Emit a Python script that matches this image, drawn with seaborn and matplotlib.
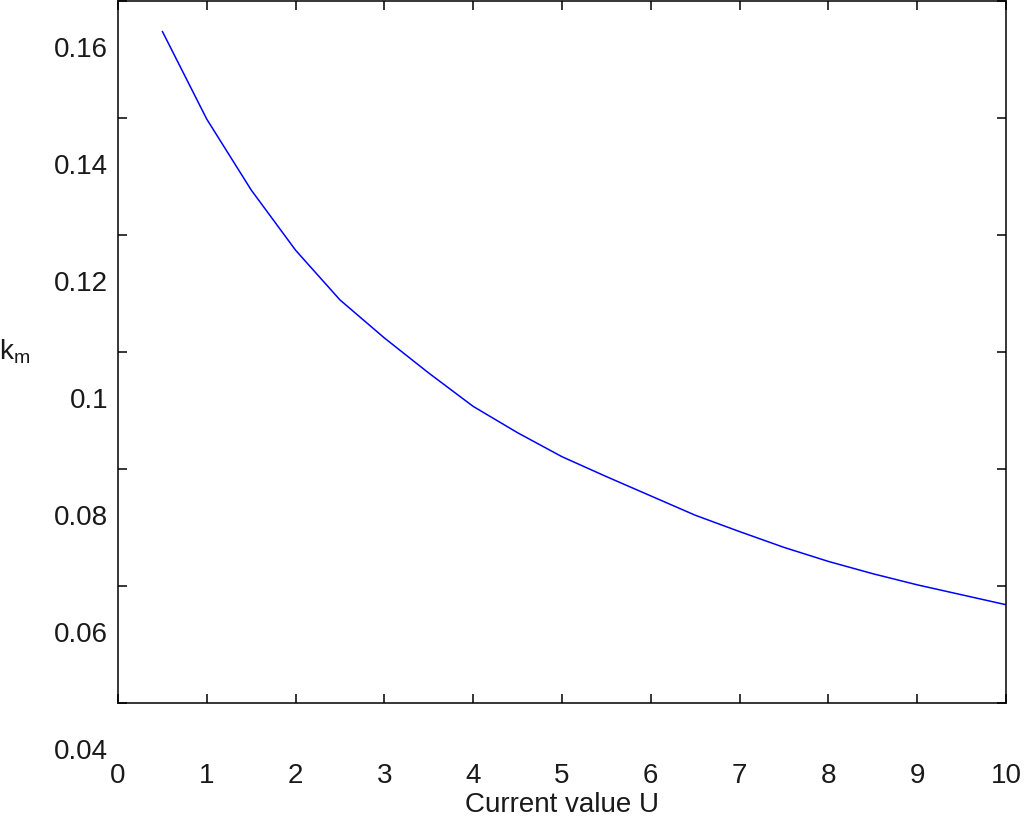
import matplotlib
matplotlib.use('Agg')  # no display
import matplotlib.pyplot as plt
import matplotlib.transforms as mtransforms
import pandas as pd
import seaborn as sns

# values
current_u = [0.5, 1, 1.5, 2, 2.5, 3, 3.5, 4, 4.5, 5,
             5.5, 6, 6.5, 7, 7.5, 8, 8.5, 9, 9.5, 10]
km = [0.1548, 0.1398, 0.1277, 0.1174, 0.1089, 0.1024, 0.0964, 0.0907, 0.0862, 0.0821,
      0.0787, 0.0754, 0.0721, 0.0693, 0.0666, 0.0642, 0.0621, 0.0602, 0.0585, 0.0568]

x_ticks = list(range(0, 11))
y_ticks = [0.04, 0.06, 0.08, 0.10, 0.12, 0.14, 0.16]
y_tick_labels = ['0.04', '0.06', '0.08', '0.1', '0.12', '0.14', '0.16']

df = pd.DataFrame({'U': current_u, 'km': km})

sns.set_theme(style='white')
plt.rcParams['font.family'] = ['Liberation Sans', 'DejaVu Sans']
plt.rcParams['mathtext.fontset'] = 'custom'
plt.rcParams['mathtext.rm'] = 'Liberation Sans'
plt.rcParams['mathtext.it'] = 'Liberation Sans'

fig = plt.figure(figsize=(10.24, 8.18), dpi=100)
ax = fig.add_axes([0.1152, 0.1406, 0.8672, 0.8582])

sns.lineplot(data=df, x='U', y='km', color='#0000ff', linewidth=1.1,
             estimator=None, sort=False, ax=ax)

ax.set_xlim(0, 10)
ax.set_ylim(0.04, 0.16)
ax.set_xticks(x_ticks)
ax.set_yticks(y_ticks)
ax.set_yticklabels(y_tick_labels)

for side in ['left', 'right', 'top', 'bottom']:
    ax.spines[side].set_visible(True)
    ax.spines[side].set_color('black')
    ax.spines[side].set_linewidth(1.1)

ax.tick_params(direction='in', left=True, bottom=True, top=True, right=True,
               length=6.5, width=1.1, color='black', labelsize=20,
               labelcolor='#1a1a1a')
ax.tick_params(axis='x', pad=43)
ax.tick_params(axis='y', pad=7)

# tick labels sit lower than their ticks, like the exported original
offset = mtransforms.ScaledTranslation(0, -0.46, fig.dpi_scale_trans)
for lab in ax.get_yticklabels():
    lab.set_transform(lab.get_transform() + offset)

ax.set_xlabel('Current value U', fontsize=20, color='#1a1a1a', va='top')
ax.xaxis.set_label_coords(0.5, -0.127)
ax.set_ylabel(r'$\mathregular{k_m}$', fontsize=20, color='#1a1a1a',
              rotation=0, ha='right', va='center')
ax.yaxis.set_label_coords(-0.099, 0.5)

plt.savefig('out.png', dpi=100)
